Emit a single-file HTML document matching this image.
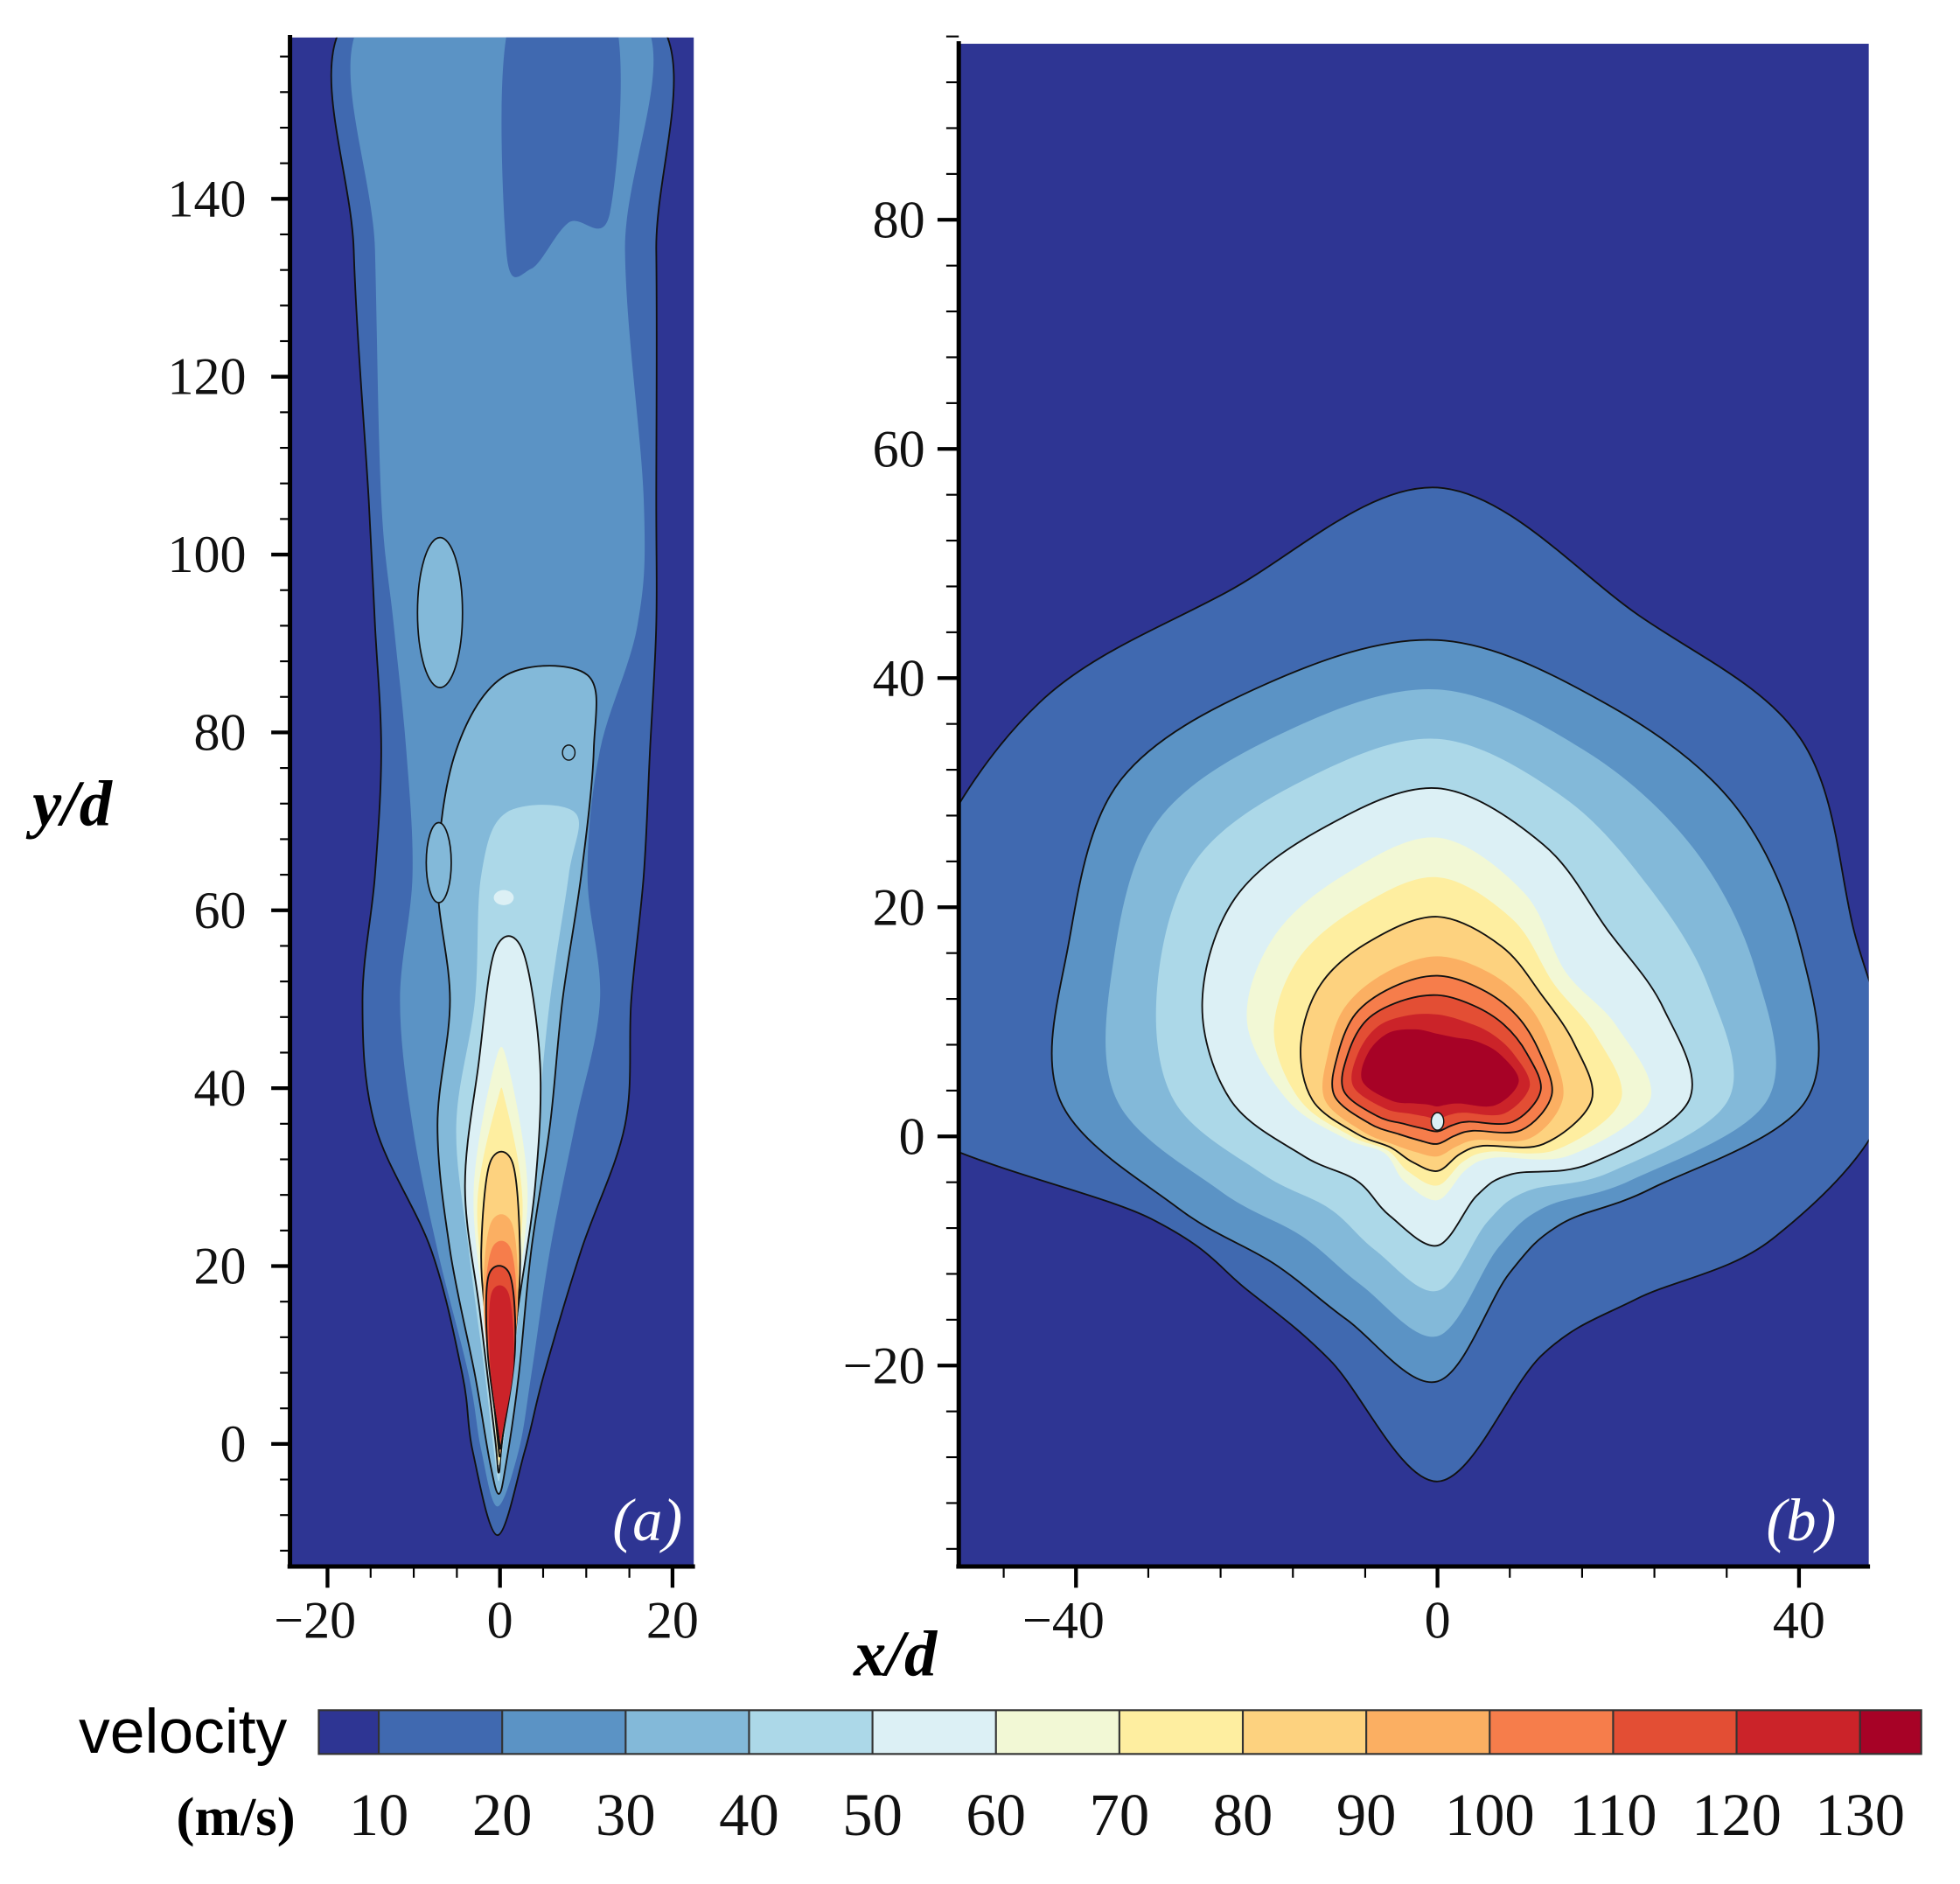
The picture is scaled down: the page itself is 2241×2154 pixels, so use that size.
<!DOCTYPE html>
<html><head><meta charset="utf-8">
<style>
html,body{margin:0;padding:0;background:#fff;}
svg{display:block;}
</style></head>
<body>
<svg id="s" xmlns="http://www.w3.org/2000/svg" width="2241" height="2154" viewBox="0 0 1568 1507" preserveAspectRatio="none">
<defs>
<clipPath id="ca"><rect x="232" y="30" width="323" height="1222"/></clipPath>
<clipPath id="cb"><rect x="767" y="35" width="728" height="1217"/></clipPath>
</defs>
<rect x="232" y="30" width="323" height="1222" fill="#2e3593"/>
<rect x="767" y="35" width="728" height="1217" fill="#2e3593"/>
<g id="ga" clip-path="url(#ca)"></g>
<g id="gb" clip-path="url(#cb)"></g>
<g id="axes" stroke="#000" fill="none"></g>
<g font-family="Liberation Serif, serif" font-size="42" fill="#111" id="labels"></g>
<text x="26" y="660" font-family="Liberation Serif, serif" font-size="52" font-weight="bold" font-style="italic">y/d</text>
<text x="683" y="1340" font-family="Liberation Serif, serif" font-size="52" font-weight="bold" font-style="italic">x/d</text>
<text x="490" y="1232" font-family="Liberation Serif, serif" font-size="48" font-style="italic" fill="#fff">(a)</text>
<text x="1413" y="1232" font-family="Liberation Serif, serif" font-size="48" font-style="italic" fill="#fff">(b)</text>
<g id="cbar"></g>
<text x="63" y="1402" font-family="Liberation Sans, sans-serif" font-size="50" fill="#000">velocity</text>
<text x="141" y="1468" font-family="Liberation Serif, serif" font-size="44" font-weight="bold" fill="#000">(m/s)</text>
</svg>
<script>
const NS="http://www.w3.org/2000/svg";
const C=["#2e3593","#4069b0","#5b93c5","#83b9d9","#acd8e8","#dcf0f5","#f2f8d5","#feeea0","#fdd27f","#fbaf62","#f67d4b","#e34e34","#cb2329","#a70226"];
function el(t,a,p){const e=document.createElementNS(NS,t);for(const k in a)e.setAttribute(k,a[k]);p.appendChild(e);return e;}
function smooth(P){let n=P.length,d="M"+P[0][0].toFixed(1)+","+P[0][1].toFixed(1);
 for(let i=0;i<n;i++){const p0=P[(i-1+n)%n],p1=P[i],p2=P[(i+1)%n],p3=P[(i+2)%n];
 const c1=[p1[0]+(p2[0]-p0[0])/6,p1[1]+(p2[1]-p0[1])/6],c2=[p2[0]-(p3[0]-p1[0])/6,p2[1]-(p3[1]-p1[1])/6];
 d+="C"+c1[0].toFixed(1)+","+c1[1].toFixed(1)+" "+c2[0].toFixed(1)+","+c2[1].toFixed(1)+" "+p2[0].toFixed(1)+","+p2[1].toFixed(1);}
 return d+"Z";}
const gb=document.getElementById("gb");
const A={10:[360,360,410,420,490,440,450,450,450,248,215,225,305,220,225,290],
20:[295,315,335,345,368,360,360,320,302,225,185,190,225,150,140,185],
60:[170,155,145,180,210,195,185,165,120,80,60,70,80,60,65,115],
90:[100,100,105,110,115,110,105,95,90,65,50,45,45,40,45,80],
130:[65,55,45,38,38,45,55,60,60,40,25,20,20,20,25,50]};
const AK=[10,20,60,90,130];
function radii(L){let i=0;while(i<AK.length-2&&L>AK[i+1])i++;const a=AK[i],b=AK[i+1],t=(L-a)/(b-a);
 return [A[a].map((r,k)=>r+(A[b][k]-r)*t), 880+(L>90?(-15*(L-90)/40):0)];}
function shapeB(L){const [R,cy]=radii(L);const P=[];for(let k=0;k<16;k++){const th=k*Math.PI/8;P.push([1150+R[k]*Math.cos(th),cy-R[k]*Math.sin(th)]);}return P;}
const linesB=[10,20,50,80,100,110];
for(let L=10;L<=130;L+=10){el("path",{d:smooth(shapeB(L)),fill:C[L/10]},gb);}
for(const L of linesB){el("path",{d:smooth(shapeB(L)),fill:"none",stroke:"#111","stroke-width":1.3},gb);}
el("ellipse",{cx:1150,cy:897,rx:5,ry:7,fill:"#dcf0f5",stroke:"#111","stroke-width":1},gb);
const ga=document.getElementById("ga");
function shapeA(Ls,Rs,bot){const P=[];for(const p of Ls)P.push(p);P.push(bot);for(let i=Rs.length-1;i>=0;i--)P.push(Rs[i]);return P;}
const ys=[10,200,400,500,600,700,800,900,1000,1100,1160];
function zipY(xs,yy){return xs.map((x,i)=>[x,yy[i]]);}
const LA=[
 [zipY([283,283,295,300,305,300,290,300,345,370,378],ys),zipY([520,525,525,525,520,515,505,500,465,435,420],ys),[398,1228],1,true],
 [zipY([295,300,305,315,325,330,320,330,350,375,385],ys),zipY([510,500,515,510,480,470,480,460,440,425,415],ys),[398,1205],2,false],
];
for(const [l,r,b,c,ln] of LA){const d=smooth(shapeA(l,r,b));el("path",{d:d,fill:C[c]},ga);if(ln)el("path",{d:d,fill:"none",stroke:"#111","stroke-width":1.3},ga);}
el("path",{d:smooth([[410,10],[490,10],[488,170],[455,178],[425,215],[405,200]]),fill:C[1]},ga);
function lvl(yy,l,r,bot,c,ln){const d=smooth(shapeA(zipY(l,yy),zipY(r,yy),bot));el("path",{d:d,fill:C[c]},ga);if(ln)el("path",{d:d,fill:"none",stroke:"#111","stroke-width":1.3},ga);}
lvl([540,600,700,800,900,1000,1100,1170],[405,365,350,360,350,360,380,392],[470,475,465,450,440,425,415,405],[399,1195],3,true);
lvl([650,700,800,900,1000,1100,1160],[405,385,380,365,375,388,395],[460,455,440,430,420,410,402],[399,1185],4,false);
lvl([760,850,950,1050,1150],[396,383,372,384,396],[418,432,428,414,402],[399,1178],5,true);
lvl([850,950,1050,1150],[396,379,387,397],[406,422,412,402],[399,1172],6,false);
lvl([880,960,1050,1150],[398,382,389,397],[404,418,410,402],[399,1168],7,false);
lvl([930,1000,1060,1150],[392,385,389,398],[410,416,413,402],[400,1165],8,true);
lvl([980,1050,1150],[392,387,399],[410,414,402],[400,1162],9,false);
lvl([1000,1060,1150],[393,388,399],[409,413,402],[400,1160],10,false);
lvl([1020,1080,1150],[391,390,399],[408,412,402],[400,1158],11,true);
lvl([1035,1090,1145],[393,392,399],[407,411,402],[400,1150],12,false);
el("ellipse",{cx:352,cy:490,rx:18,ry:60,fill:C[3],stroke:"#111","stroke-width":1.2},ga);
el("ellipse",{cx:351,cy:690,rx:10,ry:32,fill:C[3],stroke:"#111","stroke-width":1.2},ga);
el("ellipse",{cx:403,cy:718,rx:8,ry:6,fill:C[5]},ga);
el("ellipse",{cx:455,cy:602,rx:5,ry:6,fill:C[3],stroke:"#111","stroke-width":1},ga);
const ax=document.getElementById("axes"),lab=document.getElementById("labels");
function line(x1,y1,x2,y2,w){el("line",{x1,y1,x2,y2,"stroke-width":w},ax);}
line(232,28,232,1254,3.5);line(230,1253,556,1253,3.5);
line(767,33,767,1254,3.5);line(765,1253,1496,1253,3.5);
for(let v=-12;v<=156;v+=4){const y=1155-v*7.114;const M=v%20==0;line(232,y,M?217:224,y,M?3:1.5);
 if(M){const t=el("text",{x:197,y:y+14,"text-anchor":"end"},lab);t.textContent=v;}}
for(let v=-20;v<=20;v+=5){const x=400+v*6.9;const M=v%20==0;line(x,1253,x,M?1270:1262,M?3:1.5);
 if(M){const t=el("text",{x:x-(v<0?10:0),y:1310,"text-anchor":"middle"},lab);t.textContent=v<0?"\u2212"+(-v):v;}}
for(let v=-36;v<=96;v+=4){const y=909-v*9.165;const M=v%20==0;line(767,y,M?750:757,y,M?3:1.5);
 if(M){const t=el("text",{x:740,y:y+14,"text-anchor":"end"},lab);t.textContent=v<0?"\u2212"+(-v):v;}}
for(let v=-48;v<=48;v+=8){const x=1150+v*7.23;if(x<767||x>1495)continue;const M=v%40==0;line(x,1253,x,M?1270:1262,M?3:1.5);
 if(M){const t=el("text",{x:x-(v<0?10:0),y:1310,"text-anchor":"middle"},lab);t.textContent=v<0?"\u2212"+(-v):v;}}
const cb=document.getElementById("cbar");
const xs=[255];for(let i=0;i<13;i++)xs.push(303+i*98.75);xs.push(1537);
for(let i=0;i<14;i++){el("rect",{x:xs[i],y:1368,width:xs[i+1]-xs[i],height:35,fill:C[i]},cb);}
el("rect",{x:255,y:1368,width:1282,height:35,fill:"none",stroke:"#333","stroke-width":1.5},cb);
for(let i=1;i<14;i++){el("line",{x1:xs[i],y1:1368,x2:xs[i],y2:1403,stroke:"#333","stroke-width":1.5},cb);
 const t=el("text",{x:xs[i],y:1468,"text-anchor":"middle","font-family":"Liberation Serif, serif","font-size":48,fill:"#111"},cb);t.textContent=i*10;}
</script>
</body></html>
